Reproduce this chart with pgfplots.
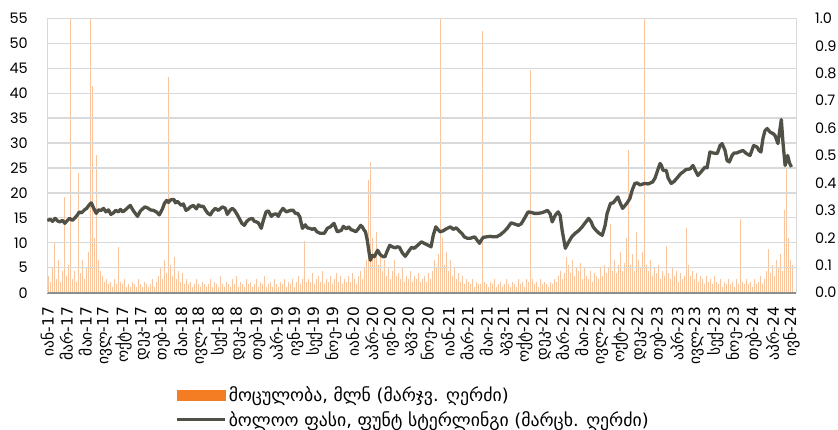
\documentclass[border=0pt]{standalone}
\usepackage{pgfplots}
\pgfplotsset{compat=1.18}
\usepackage{fontspec}
\setmainfont{DejaVu Sans}
\newfontfamily\numfont{Poppins}
\definecolor{volorange}{RGB}{244,125,35}
\definecolor{pricegray}{RGB}{80,80,70}
\definecolor{gridgray}{RGB}{217,217,217}
\definecolor{axisgray}{RGB}{140,140,140}
\begin{document}
\begin{tikzpicture}
\path[use as bounding box] (-47bp,-137.3bp) rectangle (791bp,292.7bp);
% ---------- volume (right axis) ----------
\begin{axis}[
  at={(0,0)}, anchor=south west, scale only axis,
  width=749bp, height=274.4bp,
  xmin=46.5, xmax=796, ymin=0, ymax=1,
  axis y line*=right, axis x line=none,
  y axis line style={draw=gridgray, line width=1bp},
  ytick={0,0.1,0.2,0.3,0.4,0.5,0.6,0.7,0.8,0.9,1.0},
  major tick length=0pt,
  yticklabel style={font=\numfont\fontsize{14.5}{16}\selectfont, inner sep=0pt, anchor=west, xshift=19bp,
    /pgf/number format/.cd, fixed, fixed zerofill, precision=1, assume math mode=true},
  clip=true,
]
\addplot[ycomb, draw=volorange, draw opacity=0.45, line width=0.65bp, mark=none] coordinates {
(48,.06)(50,.04)(52,.09)(54,.18)(56,.05)(58,.12)(60,.04)(62,.08)(64,.35)(66,.06)
(68,.10)(70,1.0)(72,.05)(74,.08)(76,.04)(78,.435)(80,.07)(82,.12)(84,.05)(86,.09)
(88,.15)(90,1.0)(92,.755)(94,.20)(96,.50)(98,.12)(100,.08)(102,.06)(104,.04)(106,.05)
(108,.03)(110,.04)(112,.02)(114,.05)(116,.03)(118,.165)(120,.04)(122,.03)(124,.05)(126,.02)
(128,.03)(130,.02)(132,.04)(134,.03)(136,.02)(138,.05)(140,.03)(142,.02)(144,.04)(146,.03)
(148,.02)(150,.03)(152,.05)(154,.02)(156,.04)(158,.06)(160,.09)(162,.05)(164,.12)(166,.07)
(168,.785)(170,.10)(172,.06)(174,.13)(176,.05)(178,.08)(180,.04)(182,.07)(184,.03)(186,.05)
(188,.03)(190,.04)(192,.02)(194,.03)(196,.05)(198,.03)(200,.02)(202,.04)(204,.03)(206,.02)
(208,.03)(210,.05)(212,.02)(214,.04)(216,.03)(218,.02)(220,.06)(222,.03)(224,.02)(226,.04)
(228,.03)(230,.02)(232,.05)(234,.03)(236,.06)(238,.02)(240,.04)(242,.03)(244,.02)(246,.05)
(248,.03)(250,.04)(252,.02)(254,.03)(256,.05)(258,.02)(260,.04)(262,.03)(264,.06)(266,.02)
(268,.03)(270,.04)(272,.02)(274,.05)(276,.03)(278,.02)(280,.04)(282,.03)(284,.05)(286,.02)
(288,.04)(290,.03)(292,.05)(294,.02)(296,.04)(298,.06)(300,.03)(302,.05)(304,.19)(306,.04)
(308,.05)(310,.04)(312,.07)(314,.03)(316,.05)(318,.06)(320,.04)(322,.08)(324,.03)(326,.05)
(328,.04)(330,.06)(332,.03)(334,.05)(336,.07)(338,.04)(340,.06)(342,.03)(344,.05)(346,.04)
(348,.06)(350,.04)(352,.07)(354,.05)(356,.03)(358,.06)(360,.08)(362,.05)(364,.09)(366,.12)
(368,.41)(370,.476)(372,.20)(374,.15)(376,.22)(378,.10)(380,.14)(382,.08)(384,.12)(386,.06)
(388,.09)(390,.05)(392,.08)(394,.12)(396,.06)(398,.07)(400,.05)(402,.09)(404,.04)(406,.06)
(408,.05)(410,.08)(412,.04)(414,.06)(416,.05)(418,.07)(420,.04)(422,.05)(424,.06)(426,.04)
(428,.07)(430,.05)(432,.08)(434,.12)(436,.09)(438,.14)(440,1.0)(442,.20)(444,.10)(446,.15)
(448,.08)(450,.12)(452,.06)(454,.09)(456,.05)(458,.07)(460,.04)(462,.06)(464,.03)(466,.05)
(468,.04)(470,.03)(472,.05)(474,.02)(476,.04)(478,.03)(480,.03)(482,.955)(484,.04)(486,.03)
(488,.02)(490,.04)(492,.03)(494,.05)(496,.02)(498,.03)(500,.04)(502,.02)(504,.03)(506,.05)
(508,.03)(510,.02)(512,.04)(514,.03)(516,.02)(518,.05)(520,.03)(522,.04)(524,.02)(526,.05)
(528,.04)(530,.81)(532,.05)(534,.03)(536,.04)(538,.02)(540,.05)(542,.03)(544,.04)(546,.03)
(548,.02)(550,.04)(552,.03)(554,.05)(556,.04)(558,.06)(560,.08)(562,.05)(564,.07)(566,.13)
(568,.10)(570,.07)(572,.12)(574,.06)(576,.09)(578,.08)(580,.11)(582,.05)(584,.09)(586,.06)
(588,.05)(590,.08)(592,.04)(594,.07)(596,.06)(598,.05)(600,.09)(602,.06)(604,.10)(606,.07)
(608,.09)(610,.25)(612,.08)(614,.12)(616,.07)(618,.10)(620,.15)(622,.08)(624,.11)(626,.20)
(628,.52)(630,.10)(632,.14)(634,.08)(636,.22)(638,.12)(640,.09)(642,.15)(644,1.0)(646,.10)
(648,.08)(650,.12)(652,.06)(654,.09)(656,.07)(658,.10)(660,.05)(662,.08)(664,.06)(666,.17)
(668,.07)(670,.05)(672,.09)(674,.06)(676,.08)(678,.04)(680,.07)(682,.05)(684,.06)(686,.235)
(688,.10)(690,.06)(692,.08)(694,.05)(696,.07)(698,.04)(700,.06)(702,.05)(704,.03)(706,.06)
(708,.04)(710,.05)(712,.03)(714,.06)(716,.04)(718,.03)(720,.05)(722,.02)(724,.04)(726,.03)
(728,.05)(730,.03)(732,.04)(734,.02)(736,.05)(738,.03)(740,.27)(742,.04)(744,.03)(746,.05)
(748,.03)(750,.04)(752,.02)(754,.05)(756,.03)(758,.04)(760,.06)(762,.03)(764,.05)(766,.08)
(768,.16)(770,.07)(772,.10)(774,.06)(776,.12)(778,.09)(780,.14)(782,.08)(784,.30)(786,.45)
(788,.20)(790,.12)(792,.10)
};
\end{axis}
% ---------- price (left axis) ----------
\begin{axis}[
  at={(0,0)}, anchor=south west, scale only axis,
  width=749bp, height=274.4bp,
  xmin=46.5, xmax=796, ymin=0, ymax=55,
  axis x line*=bottom, axis y line*=left,
  x axis line style={draw=axisgray, line width=2bp, -},
  y axis line style={draw=gridgray, line width=1bp, -},
  ytick={0,5,10,15,20,25,30,35,40,45,50,55},
  ymajorgrids, grid style={draw=gridgray, line width=1.2bp},
  major tick length=0pt,
  yticklabel style={font=\numfont\fontsize{14.5}{16}\selectfont, inner sep=0pt, anchor=east, xshift=-19bp,
    /pgf/number format/assume math mode=true},
  xtick={46.7,65.8,84.9,104.0,123.1,142.2,161.3,180.4,199.5,218.6,237.7,256.8,275.9,295.0,314.1,333.2,352.3,371.4,390.5,409.6,428.7,447.8,466.9,486.0,505.1,524.2,543.3,562.4,581.5,600.6,619.7,638.8,657.9,677.0,696.1,715.2,734.3,753.4,772.5,791.6},
  xticklabels={იან-17,მარ-17,მაი-17,ივლ-17,ოქტ-17,დეკ-17,თებ-18,მაი-18,ივლ-18,სექ-18,დეკ-18,თებ-19,აპრ-19,ივნ-19,სექ-19,ნოე-19,იან-20,აპრ-20,ივნ-20,აგვ-20,ნოე-20,იან-21,მარ-21,მაი-21,აგვ-21,ოქტ-21,დეკ-21,მარ-22,მაი-22,ივლ-22,ოქტ-22,დეკ-22,თებ-23,აპრ-23,ივლ-23,სექ-23,ნოე-23,თებ-24,აპრ-24,ივნ-24},
  xticklabel style={font=\fontsize{15.5}{15.5}\selectfont, rotate=90, anchor=east, inner sep=0pt},
  xticklabel shift=14bp,
  legend style={at={(axis description cs:0.171,-0.333)}, anchor=north west, draw=none, fill=none,
    font=\fontsize{17.8}{18}\selectfont, row sep=3.5bp, inner sep=0pt, nodes={inner sep=2.5bp}},
  legend cell align=left,
  clip=true,
]
\addlegendimage{legend image code/.code={\fill[volorange] (0bp,-5bp) rectangle (48bp,5bp);}}
\addlegendentry{მოცულობა, მლნ (მარჯვ. ღერძი)}
\addplot[draw=pricegray, line width=3.3bp, line join=round, mark=none,
  legend image code/.code={\draw[pricegray, line width=3bp] (0bp,0bp) -- (48bp,0bp);}] coordinates {
(46.8,14.5)(50,14.7)(52,14.3)(54.6,14.9)(57,14.4)(59.4,14.2)(62,14.5)(64.3,13.9)(66,14.3)(68,14.7)(69.1,14.9)
(72,14.5)(74,14.9)(77,15.6)(78.8,16.2)(81,16.0)(84,16.6)(86.1,16.9)(88,17.4)(90,17.9)(91,18.0)
(93,17.0)(95.8,15.9)(98,16.6)(100.7,16.5)(103,16.9)(105.5,16.2)(108,16.6)(110.4,15.7)(113,16.0)(115.2,16.5)
(118,16.2)(120,16.7)(122.5,16.2)(126,16.8)(129.8,17.5)(133,16.4)(137.1,15.3)(140,16.4)(144.4,17.2)(147,17.0)
(150,16.6)(153,16.5)(156,16.2)(158.9,15.6)(162,16.8)(164,17.9)(166.2,18.5)(168,18.1)(170,18.6)(173.5,18.7)(175,18.0)(177,18.3)
(180.8,17.5)(183,17.8)(185.6,16.5)(188,16.8)(190,17.2)(192.9,17.5)(196,16.8)(198,17.6)(200.2,17.3)(203,17.3)(205,16.6)
(207.5,15.9)(210,15.6)(212,16.3)(214.8,16.9)(218,16.5)(222,17.2)(225,16.9)(226.9,15.7)(230,16.6)(232,16.9)
(234.2,16.5)(237,15.6)(241.5,13.9)(244,13.5)(246,14.2)(248.7,14.7)(252,14.9)(254,14.3)(256,14.2)(258,14.0)(260.9,12.9)
(263,14.5)(265.7,16.2)(268,16.4)(271,15.3)(273,15.7)(276,15.8)(278,15.3)(280,16.2)(282.7,16.9)(286,16.2)(290,16.5)
(293,16.5)(295,15.9)(297.3,15.9)(299.5,15.2)(302.1,12.9)(305,13.6)(307,13.0)(309.4,12.9)(312,12.7)(314,12.9)(316.7,12.2)(320,11.9)
(324,11.9)(327,12.9)(330,13.2)(333.7,13.9)(337,12.2)(341,12.5)(343,13.3)(346,12.8)(348.3,13.2)(351,12.6)
(353,12.5)(355.5,12.2)(358,12.8)(360.4,13.5)(362,13.2)(364,12.5)(365.2,12.2)(367,10.5)(369,7.8)(370.1,6.5)
(372,7.5)(374,7.2)(377.4,8.5)(380,7.6)(383,7.2)(384.7,7.2)(387,8.4)(389.5,9.5)(392,9.2)(395,9.0)
(397,9.2)(399.2,9.1)(402,8.0)(405,7.3)(408,8.2)(411.4,9.1)(414,8.9)(418,9.6)(421.1,10.2)(424,9.9)
(427,9.6)(430.8,9.2)(433,11.5)(435.6,13.2)(438,12.6)(440,12.2)(442.9,12.4)(446,12.8)(450.2,13.2)(453,12.7)
(456,13.0)(459.9,12.2)(462,11.8)(464,11.2)(467.2,10.9)(470,10.9)(474.5,11.2)(477,10.5)(479.3,9.9)(481,10.5)
(483,11.1)(486.6,11.2)(490,11.3)(493,11.2)(496.3,11.2)(500,11.6)(503.6,12.2)(507,12.9)(510.9,14.0)(514,13.8)
(518.2,13.5)(521,13.8)(524,14.8)(527.9,16.2)(531,16.1)(534,15.9)(537.6,15.9)(541,16.0)(544,16.2)(547.3,16.5)
(550,15.8)(552.1,14.2)(555,15.5)(558,16.2)(560,15.5)(562,12.5)(565.2,8.9)(568,10.0)(571.6,11.2)(575,11.9)
(578.8,12.5)(582,13.2)(585,14.0)(588.5,14.9)(591,14.2)(593,13.2)(595.8,12.5)(599,11.9)(602.1,11.5)(605,13.5)
(607,15.9)(610.4,17.9)(613,18.0)(615,18.5)(617.7,19.2)(620,18.0)(622.5,16.9)(625,17.5)(627,18.0)(629.8,18.9)
(632,20.5)(634.7,21.9)(637,22.0)(640,21.6)(644.4,21.9)(648,21.8)(652.6,22.2)(655,23.0)(658,24.8)(660,25.9)
(661.4,25.5)(663,24.5)(666.2,24.5)(668,23.0)(671.1,21.9)(674,22.3)(677,23.0)(680.8,23.9)(683,24.2)(686,24.7)
(690,24.8)(692.9,25.5)(695,24.6)(697.8,23.5)(700,24.0)(703,24.7)(705,25.2)(707,25.0)(709.9,28.2)(713,28.0)
(717.2,27.9)(720,29.5)(722,29.9)(725,28.5)(727,26.5)(729.3,26.2)(732,27.5)(734,28.0)(736.6,28.0)(740,28.3)
(743,28.5)(746.3,27.9)(750,27.5)(753.6,29.5)(757,29.2)(759,28.5)(760.9,28.2)(763,31.0)(765,32.5)(767.2,32.9)
(770,32.2)(773,31.9)(775,31.5)(777.9,29.9)(779,31.5)(781.3,34.7)(783,30.0)(785.1,25.5)(787.6,27.5)(789.5,26.0)
(791.5,25.2)
};
\addlegendentry{ბოლოო ფასი, ფუნტ სტერლინგი (მარცხ. ღერძი)}
\end{axis}
\end{tikzpicture}
\end{document}
